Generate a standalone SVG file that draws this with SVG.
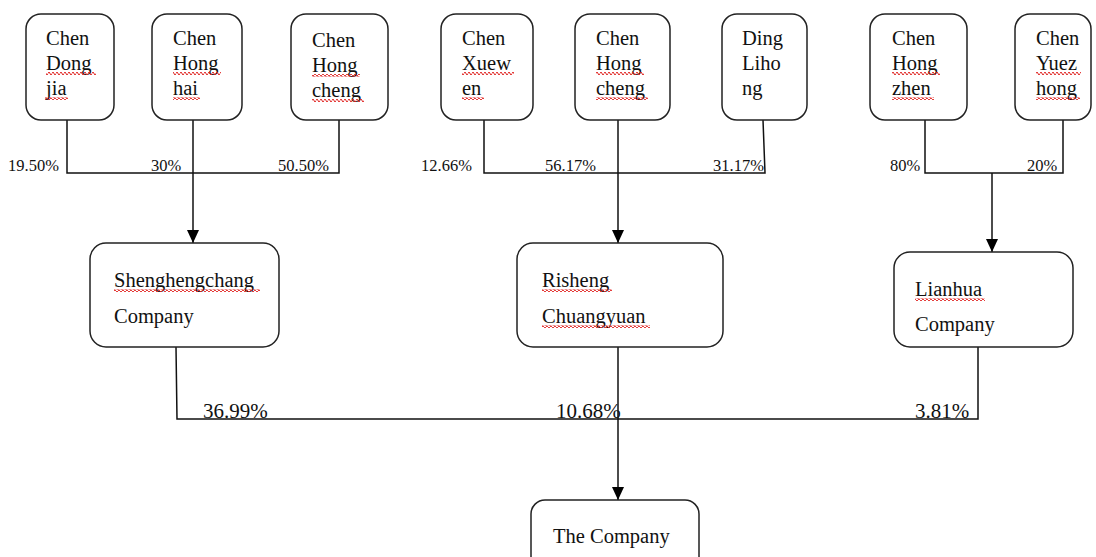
<svg xmlns="http://www.w3.org/2000/svg" width="1096" height="557" viewBox="0 0 1096 557">
<defs>
<marker id="arr" markerUnits="userSpaceOnUse" markerWidth="14" markerHeight="14" refX="13" refY="6" orient="auto" viewBox="0 0 14 12">
<path d="M0,0 L13,6 L0,12 Z" fill="#000"/>
</marker>
<pattern id="sq" patternUnits="userSpaceOnUse" width="4" height="3">
<path d="M0,1.5 L1,0 L3,3 L4,1.5" fill="none" stroke="#e0201e" stroke-width="1"/>
</pattern>
</defs>
<style>
.box{fill:#fff;stroke:#222;stroke-width:1.5}
.t{font-family:"Liberation Serif","Times New Roman",serif;font-size:20.5px;fill:#111}
.p{font-family:"Liberation Serif","Times New Roman",serif;font-size:16.5px;fill:#111}
.pb{font-family:"Liberation Serif","Times New Roman",serif;font-size:21px;fill:#111}
.ln{fill:none;stroke:#111;stroke-width:1.5}
.sq{fill:url(#sq)}
</style>
<rect width="1096" height="557" fill="#fff"/>

<g id="connectors">
<polyline class="ln" points="67,120 67,173 339,173 339,120"/>
<line class="ln" x1="193" y1="120" x2="193" y2="243" marker-end="url(#arr)"/>
<polyline class="ln" points="484,120 484,173 765,173 763,120"/>
<line class="ln" x1="618" y1="120" x2="618" y2="243" marker-end="url(#arr)"/>
<polyline class="ln" points="925,120 925,173 1063,173 1063,120"/>
<line class="ln" x1="992" y1="173" x2="992" y2="252" marker-end="url(#arr)"/>
<polyline class="ln" points="176,347 177,419 978,419 978,347"/>
<line class="ln" x1="618" y1="347" x2="618" y2="500" marker-end="url(#arr)"/>
<text class="p" x="8" y="171">19.50%</text>
<text class="p" x="151" y="171">30%</text>
<text class="p" x="278" y="171">50.50%</text>
<text class="p" x="421" y="171">12.66%</text>
<text class="p" x="545" y="171">56.17%</text>
<text class="p" x="713" y="171">31.17%</text>
<text class="p" x="890" y="171">80%</text>
<text class="p" x="1027" y="171">20%</text>
<text class="pb" x="203" y="418">36.99%</text>
<text class="pb" x="556" y="418">10.68%</text>
<text class="pb" x="915" y="418">3.81%</text>
</g>

<g id="n1">
<rect class="box" x="26" y="14" width="88" height="106" rx="15"/>
<text class="t" x="46" y="45">Chen</text><text class="t" x="46" y="70">Dong</text><text class="t" x="46" y="95">jia</text>
<rect class="sq" x="46" y="72" width="50" height="3"/><rect class="sq" x="45" y="97" width="23" height="3"/>
</g>
<g id="n2">
<rect class="box" x="152" y="14" width="90" height="106" rx="15"/>
<text class="t" x="173" y="45">Chen</text><text class="t" x="173" y="70">Hong</text><text class="t" x="173" y="95">hai</text>
<rect class="sq" x="173" y="72" width="48" height="3"/><rect class="sq" x="173" y="97" width="27" height="3"/>
</g>
<g id="n3">
<rect class="box" x="291" y="14" width="97" height="106" rx="15"/>
<text class="t" x="312" y="47">Chen</text><text class="t" x="312" y="72">Hong</text><text class="t" x="312" y="97">cheng</text>
<rect class="sq" x="312" y="74" width="48" height="3"/><rect class="sq" x="312" y="99" width="52" height="3"/>
</g>
<g id="n4">
<rect class="box" x="441" y="14" width="92" height="106" rx="15"/>
<text class="t" x="462" y="45">Chen</text><text class="t" x="462" y="70">Xuew</text><text class="t" x="462" y="95">en</text>
<rect class="sq" x="462" y="72" width="52" height="3"/><rect class="sq" x="462" y="97" width="22" height="3"/>
</g>
<g id="n5">
<rect class="box" x="575" y="14" width="95" height="106" rx="15"/>
<text class="t" x="596" y="45">Chen</text><text class="t" x="596" y="70">Hong</text><text class="t" x="596" y="95">cheng</text>
<rect class="sq" x="596" y="72" width="48" height="3"/><rect class="sq" x="596" y="97" width="52" height="3"/>
</g>
<g id="n6">
<rect class="box" x="722" y="14" width="85" height="106" rx="15"/>
<text class="t" x="742" y="45">Ding</text><text class="t" x="742" y="70">Liho</text><text class="t" x="742" y="95">ng</text>
</g>
<g id="n7">
<rect class="box" x="870" y="14" width="97" height="106" rx="15"/>
<text class="t" x="892" y="45">Chen</text><text class="t" x="892" y="70">Hong</text><text class="t" x="892" y="95">zhen</text>
<rect class="sq" x="892" y="72" width="48" height="3"/><rect class="sq" x="892" y="97" width="42" height="3"/>
</g>
<g id="n8">
<rect class="box" x="1015" y="14" width="76" height="106" rx="15"/>
<text class="t" x="1036" y="45">Chen</text><text class="t" x="1036" y="70">Yuez</text><text class="t" x="1036" y="95">hong</text>
<rect class="sq" x="1036" y="72" width="45" height="3"/><rect class="sq" x="1036" y="97" width="44" height="3"/>
</g>

<g id="shenghengchang">
<rect class="box" x="90" y="243" width="189" height="104" rx="16"/>
<text class="t" x="114" y="287">Shenghengchang</text><text class="t" x="114" y="323">Company</text>
<rect class="sq" x="114" y="289" width="146" height="3"/>
</g>
<g id="risheng">
<rect class="box" x="517" y="243" width="206" height="104" rx="16"/>
<text class="t" x="542" y="287">Risheng</text><text class="t" x="542" y="323">Chuangyuan</text>
<rect class="sq" x="542" y="289" width="70" height="3"/><rect class="sq" x="542" y="325" width="108" height="3"/>
</g>
<g id="lianhua">
<rect class="box" x="894" y="252" width="179" height="95" rx="16"/>
<text class="t" x="915" y="296">Lianhua</text><text class="t" x="915" y="331">Company</text>
<rect class="sq" x="915" y="298" width="70" height="3"/>
</g>
<g id="company">
<rect class="box" x="531" y="500" width="168" height="80" rx="14"/>
<text class="t" x="553" y="543">The Company</text>
</g>
</svg>
